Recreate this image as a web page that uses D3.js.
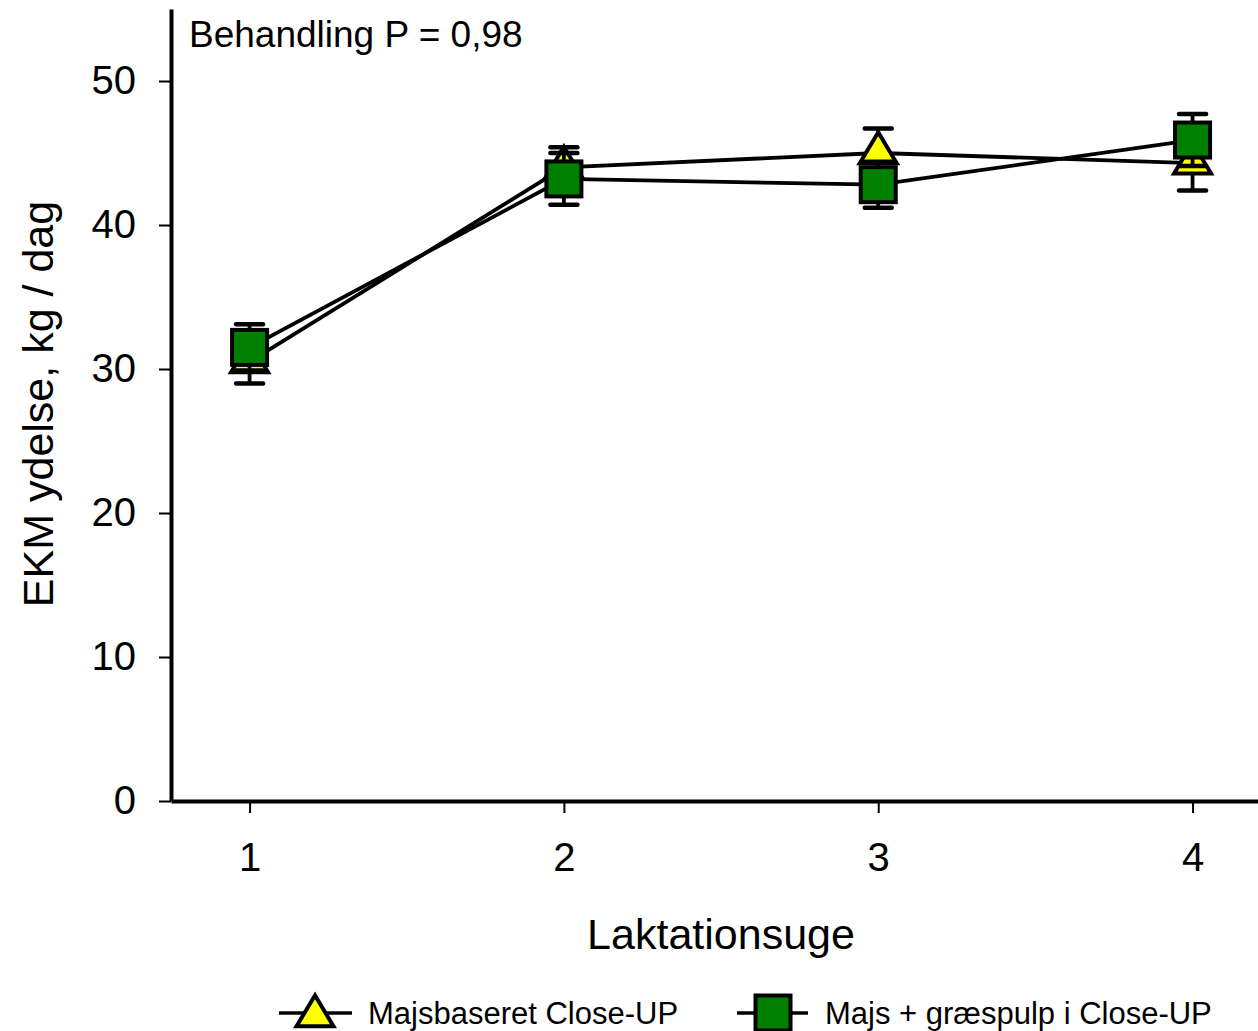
<!DOCTYPE html>
<html>
<head>
<meta charset="utf-8">
<script src="https://cdn.jsdelivr.net/npm/d3@7/dist/d3.min.js"></script>
<style>
  html, body { margin: 0; padding: 0; background: #fff; }
  svg { display: block; font-family: Arial, "Liberation Sans", sans-serif; }
</style>
</head>
<body>
<svg id="chart" width="1258" height="1031"></svg>
<script>
// Energy-corrected milk (EKM) per lactation week, two close-up feeding strategies
const weeks = [1, 2, 3, 4];
const majsbaseret = [30.5, 44.0, 45.0, 44.3];      // Majsbaseret Close-UP
const majsbaseretSE = [1.5, 1.4, 1.7, 1.9];
const graespulp = [31.5, 43.2, 42.8, 45.9];        // Majs + græspulp i Close-UP
const graespulpSE = [1.6, 1.8, 1.6, 1.8];
const yTicks = [0, 10, 20, 30, 40, 50];
const xTicks = [1, 2, 3, 4];
const seriesNames = ["Majsbaseret Close-UP", "Majs + græspulp i Close-UP"];
const annotation = "Behandling P = 0,98";
const xTitle = "Laktationsuge";
const yTitle = "EKM ydelse, kg / dag";

const series = [
  { name: seriesNames[0], values: majsbaseret, se: majsbaseretSE, shape: "triangle", fill: "#ffff00" },
  { name: seriesNames[1], values: graespulp, se: graespulpSE, shape: "square", fill: "#008000" }
];

const svg = d3.select("#chart");

const x = d3.scaleLinear().domain([0.75, 4.22]).range([171, 1261.7]);
const y = d3.scaleLinear().domain([0, 55]).range([801, 9]);

// symbol drawing: triangle centred on its centroid, square on its centre
function drawSymbol(g, shape, fill, cx, cy) {
  if (shape === "triangle") {
    const h = 31, w = 37;
    g.append("path")
      .attr("d", `M${cx},${cy - h * 2 / 3} L${cx + w / 2},${cy + h / 3} L${cx - w / 2},${cy + h / 3} Z`)
      .attr("fill", fill).attr("stroke", "#000").attr("stroke-width", 4)
      .attr("stroke-linejoin", "miter");
  } else {
    const s = 35;
    g.append("rect")
      .attr("x", cx - s / 2).attr("y", cy - s / 2)
      .attr("width", s).attr("height", s)
      .attr("fill", fill).attr("stroke", "#000").attr("stroke-width", 4);
  }
}

// axes
const yAxis = d3.axisLeft(y).tickValues(yTicks).tickSizeInner(12).tickSizeOuter(0).tickPadding(23);
const xAxis = d3.axisBottom(x).tickValues(xTicks).tickSizeInner(12).tickSizeOuter(0).tickPadding(30)
  .tickFormat(d3.format("d"));

const gy = svg.append("g").attr("transform", "translate(171,0)").call(yAxis);
const gx = svg.append("g").attr("transform", "translate(0,801)").call(xAxis);

[gy, gx].forEach(g => {
  g.select(".domain").attr("stroke", "#000").attr("stroke-width", 4);
  g.selectAll(".tick line").attr("stroke", "#000").attr("stroke-width", 2);
  g.selectAll(".tick text").attr("fill", "#000").style("font-size", "40px")
    .style("font-family", "Arial, 'Liberation Sans', sans-serif");
});

// data series: line, error bars, then symbols on top
const plot = svg.append("g");
series.forEach(s => {
  const g = plot.append("g");
  const pts = weeks.map((w, i) => ({ w, v: s.values[i], e: s.se[i] }));
  g.append("path")
    .datum(pts)
    .attr("d", d3.line().x(d => x(d.w)).y(d => y(d.v)))
    .attr("fill", "none").attr("stroke", "#000").attr("stroke-width", 3.8);
  pts.forEach(p => {
    const cx = x(p.w);
    g.append("line").attr("x1", cx).attr("x2", cx)
      .attr("y1", y(p.v - p.e)).attr("y2", y(p.v + p.e))
      .attr("stroke", "#000").attr("stroke-width", 3.8);
    [p.v - p.e, p.v + p.e].forEach(val => {
      g.append("line").attr("x1", cx - 13.5).attr("x2", cx + 13.5)
        .attr("y1", y(val)).attr("y2", y(val))
        .attr("stroke", "#000").attr("stroke-width", 4.5)
        .attr("stroke-linecap", "round");
    });
  });
  pts.forEach(p => drawSymbol(g, s.shape, s.fill, x(p.w), y(p.v)));
});

// annotation and titles
svg.append("text").attr("x", 189).attr("y", 47)
  .style("font-size", "37px").attr("fill", "#000").text(annotation);

svg.append("text").attr("x", 721).attr("y", 949).attr("text-anchor", "middle")
  .style("font-size", "43px").attr("fill", "#000").text(xTitle);

svg.append("text").attr("transform", "translate(53,404) rotate(-90)")
  .attr("text-anchor", "middle")
  .style("font-size", "43px").attr("fill", "#000").text(yTitle);

// legend
const legendItems = [
  { cx: 315, x1: 279, x2: 352, tx: 368 },
  { cx: 773, x1: 737, x2: 808, tx: 825 }
];
const ly = 1013;
series.forEach((s, i) => {
  const L = legendItems[i];
  const g = svg.append("g");
  g.append("line").attr("x1", L.x1).attr("x2", L.x2).attr("y1", ly).attr("y2", ly)
    .attr("stroke", "#000").attr("stroke-width", 3.5);
  drawSymbol(g, s.shape, s.fill, L.cx, s.shape === "triangle" ? ly + 3 : ly);
  g.append("text").attr("x", L.tx).attr("y", 1024)
    .style("font-size", "31px").attr("fill", "#000").text(s.name);
});
</script>
</body>
</html>
